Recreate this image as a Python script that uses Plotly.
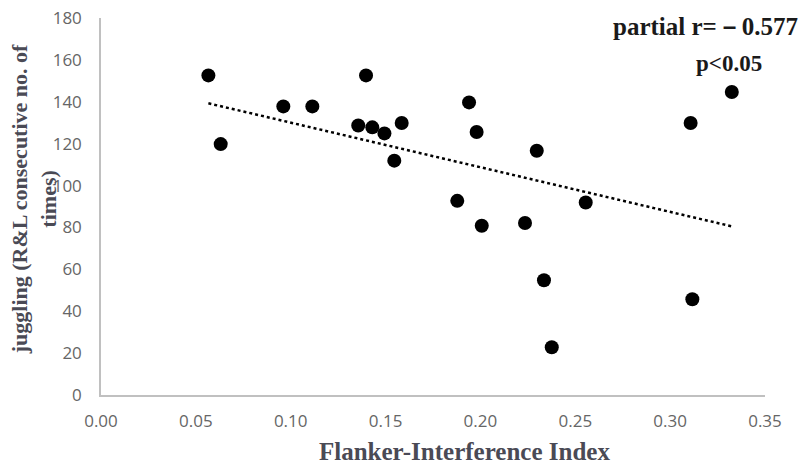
import numpy as np
import plotly.graph_objects as go

flanker_index = [0.0566, 0.0631, 0.0961, 0.1114, 0.1356, 0.1397, 0.1430, 0.1494,
                 0.1546, 0.1585, 0.1878, 0.1940, 0.1980, 0.2007, 0.2235, 0.2297,
                 0.2335, 0.2376, 0.2555, 0.3108, 0.3117, 0.3325]
juggling = [152.6, 119.8, 137.8, 137.8, 128.7, 152.6, 127.8, 124.9,
            111.9, 129.9, 92.7, 139.7, 125.6, 80.8, 82.1, 116.6,
            54.8, 22.8, 91.9, 129.9, 45.7, 144.7]
x_ticks = [0.00, 0.05, 0.10, 0.15, 0.20, 0.25, 0.30, 0.35]
y_ticks = [0, 20, 40, 60, 80, 100, 120, 140, 160, 180]

slope, intercept = np.polyfit(flanker_index, juggling, 1)
trend_x = [min(flanker_index), max(flanker_index)]
trend_y = [slope * v + intercept for v in trend_x]

fig = go.Figure()
fig.add_trace(go.Scatter(x=trend_x, y=trend_y, mode="lines",
                         line=dict(color="black", width=2.5, dash="dot"),
                         showlegend=False, hoverinfo="skip"))
fig.add_trace(go.Scatter(x=flanker_index, y=juggling, mode="markers",
                         marker=dict(color="black", size=14),
                         showlegend=False))

serif = "Liberation Serif, Times New Roman, serif"
tick_font = dict(family="Open Sans, Lato, sans-serif", size=17, color="#666666")
title_font = dict(family=serif, size=25, color="#4a4a55")

fig.update_layout(
    width=800, height=464,
    margin=dict(l=101, r=35, t=18, b=69),
    paper_bgcolor="white", plot_bgcolor="white",
    xaxis=dict(range=[0, 0.35], tickvals=x_ticks,
               ticktext=[f"{v:.2f}" for v in x_ticks],
               showgrid=False, zeroline=False, showline=True, automargin=False,
               linecolor="#c0c0c0", linewidth=1.5, ticks="",
               tickfont=tick_font, ticklabelstandoff=10),
    yaxis=dict(range=[0, 180], tickvals=y_ticks, automargin=False,
               showgrid=False, zeroline=False, showline=True,
               linecolor="#c0c0c0", linewidth=1.5, ticks="",
               tickfont=tick_font, ticklabelstandoff=14),
    annotations=[
        dict(text="<b>Flanker-Interference Index</b>", xref="paper", yref="paper",
             x=0.547, y=-0.15, xanchor="center", yanchor="middle", showarrow=False,
             font=title_font),
        dict(text="<b>juggling (R&L consecutive no. of<br>times)</b>",
             xref="paper", yref="paper", x=-0.1005, y=0.52, xanchor="center", yanchor="middle",
             textangle=-90, showarrow=False,
             font=dict(family=serif, size=22, color="#4a4a55")),
        dict(text="<b>partial r=－0.577</b>", xref="paper", yref="paper",
             x=1.052, y=0.977, xanchor="right", yanchor="middle", showarrow=False,
             font=dict(family=serif, size=25, color="#1a1a1a")),
        dict(text="<b>p&lt;0.05</b>", xref="paper", yref="paper",
             x=0.998, y=0.88, xanchor="right", yanchor="middle", showarrow=False,
             font=dict(family=serif, size=23, color="#1a1a1a")),
    ],
)

fig.write_html("out.html", config={"displayModeBar": False},
               post_script="document.body.style.margin='0';")
